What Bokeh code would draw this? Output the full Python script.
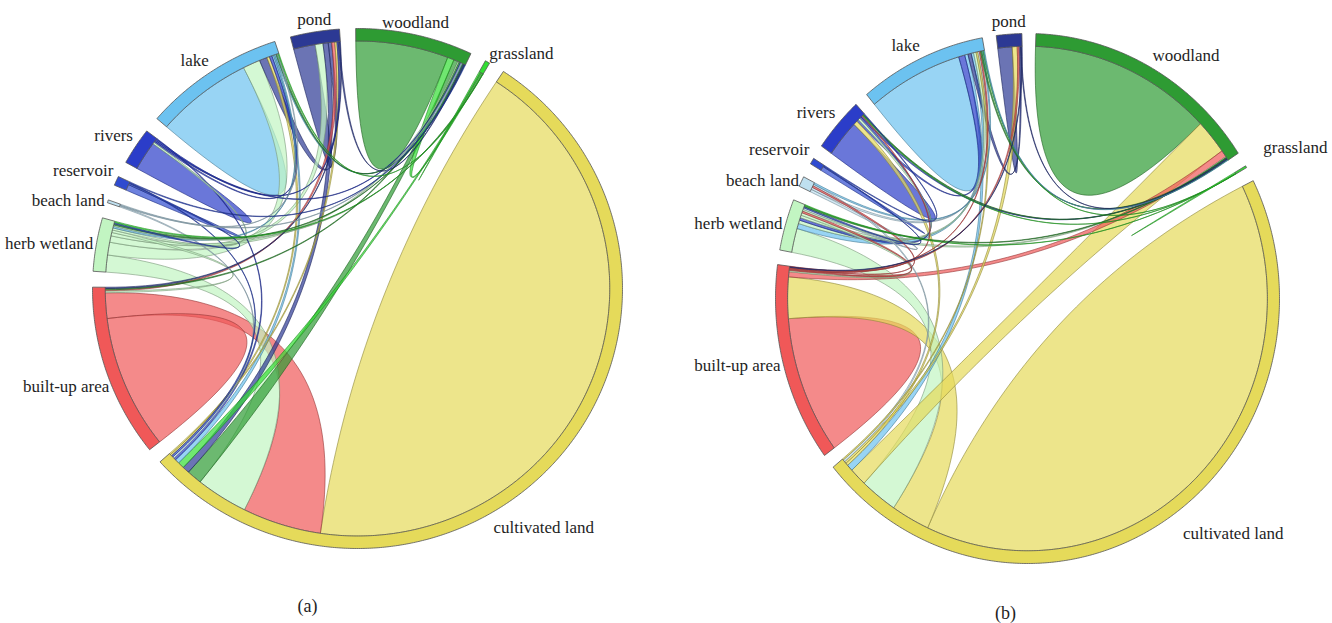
import math
from bokeh.plotting import figure
from bokeh.models import Range1d, ColumnDataSource
from bokeh.embed import file_html
from bokeh.resources import INLINE
from bokeh.core.properties import value

# Land classes, in clockwise order around each circle
SECTORS = ["cultivated land", "built-up area", "herb wetland", "beach land", "reservoir",
           "rivers", "lake", "pond", "woodland", "grassland"]
SECTOR_COLORS = ["#E5DA5A", "#F05858", "#C2F5C2", "#BFE0F0", "#2F4BD0",
                 "#2B3DC9", "#6CC2F0", "#2C3994", "#2E9B33", "#33DD33"]

# Period (a): transfers between classes, width at the origin end and at the destination end
A_FROM = ["cultivated land", "built-up area", "lake", "woodland", "rivers", "pond", "reservoir", "grassland",
          "built-up area", "herb wetland", "woodland", "pond", "grassland", "lake", "rivers", "beach land",
          "reservoir", "cultivated land", "cultivated land", "herb wetland", "pond", "rivers", "herb wetland",
          "built-up area", "grassland", "herb wetland", "herb wetland", "woodland", "woodland", "pond",
          "rivers", "rivers", "reservoir", "beach land", "beach land", "herb wetland", "lake", "lake",
          "woodland", "herb wetland", "pond", "reservoir", "grassland", "grassland"]
A_TO = ["cultivated land", "built-up area", "lake", "woodland", "rivers", "pond", "reservoir", "grassland",
        "cultivated land", "cultivated land", "cultivated land", "cultivated land", "cultivated land",
        "cultivated land", "cultivated land", "cultivated land", "cultivated land", "lake", "pond", "lake",
        "lake", "lake", "pond", "pond", "woodland", "woodland", "grassland", "built-up area", "herb wetland",
        "built-up area", "woodland", "pond", "herb wetland", "woodland", "lake", "built-up area",
        "herb wetland", "woodland", "lake", "rivers", "woodland", "woodland", "herb wetland", "lake"]
A_W_FROM = [77.7, 15.7, 11.2, 10.7, 3.4, 2.5, 0.7, 0.15,
            6.0, 4.0, 1.0, 1.2, 0.25, 0.4, 0.2, 0.25,
            0.2, 0.4, 0.3, 3.0, 0.8, 0.3, 1.5,
            0.3, 0.25, 0.8, 0.3, 0.3, 0.15, 0.2,
            0.3, 0.3, 0.3, 0.2, 0.2, 0.6, 0.3, 0.3,
            0.2, 0.5, 0.3, 0.2, 0.1, 0.05]
A_W_TO = [77.7, 15.7, 11.2, 10.7, 3.4, 2.5, 0.7, 0.15,
          18.2, 12.0, 3.5, 1.6, 1.5, 1.0, 0.5, 0.4,
          0.4, 0.6, 0.5, 4.0, 1.8, 0.6, 1.8,
          0.7, 1.5, 0.3, 0.1, 0.3, 0.3, 0.3,
          0.2, 0.3, 0.3, 0.2, 0.2, 0.4, 0.4, 0.2,
          0.3, 0.4, 0.2, 0.15, 0.3, 0.2]

# Period (b)
B_FROM = ["cultivated land", "built-up area", "woodland", "lake", "rivers", "pond", "reservoir", "grassland",
          "cultivated land", "herb wetland", "cultivated land", "lake", "built-up area", "cultivated land",
          "cultivated land", "cultivated land", "built-up area", "built-up area", "built-up area",
          "built-up area", "built-up area", "lake", "rivers", "pond", "rivers", "reservoir",
          "herb wetland", "herb wetland", "herb wetland", "herb wetland", "grassland", "grassland",
          "grassland", "woodland", "woodland", "woodland", "pond", "rivers", "lake", "beach land",
          "beach land", "beach land", "lake", "reservoir", "pond"]
B_TO = ["cultivated land", "built-up area", "woodland", "lake", "rivers", "pond", "reservoir", "grassland",
        "built-up area", "cultivated land", "woodland", "cultivated land", "woodland", "pond",
        "rivers", "lake", "pond", "lake", "herb wetland",
        "beach land", "rivers", "herb wetland", "lake", "lake", "herb wetland", "herb wetland",
        "lake", "woodland", "rivers", "built-up area", "lake", "herb wetland",
        "rivers", "herb wetland", "lake", "rivers", "woodland", "woodland", "woodland", "lake",
        "herb wetland", "cultivated land", "beach land", "rivers", "built-up area"]
B_W_FROM = [71.1, 16.0, 22.3, 11.6, 4.3, 1.75, 0.5, 0.15,
            9.4, 5.6, 4.2, 0.8, 1.2, 0.5,
            0.6, 0.3, 0.2, 0.15, 0.2,
            0.15, 0.1, 0.6, 0.5, 0.4, 0.4, 0.2,
            0.8, 0.6, 0.4, 0.6, 0.05, 0.05,
            0.05, 0.15, 0.15, 0.1, 0.2, 0.3, 0.2, 0.5,
            0.6, 0.4, 0.3, 0.2, 0.2]
B_W_TO = [71.1, 16.0, 22.3, 11.6, 4.3, 1.75, 0.5, 0.15,
          9.6, 9.1, 8.1, 1.5, 1.6, 1.2,
          1.0, 0.4, 0.4, 0.3, 0.4,
          0.4, 0.2, 1.2, 1.5, 0.8, 0.6, 0.3,
          0.6, 0.2, 0.5, 0.3, 0.2, 0.2,
          0.2, 0.3, 0.3, 0.2, 0.15, 0.15, 0.1, 0.4,
          0.4, 0.5, 0.4, 0.2, 0.15]

# Placement of the two circles on the page (pixels), start bearing of the first class and gap between classes
PANELS = [
    dict(cx=357, cy=288, rx=265, ry=260, start=33.4, gap=3.5, caption="(a)", cap=(307, 605),
         src=A_FROM, dst=A_TO, wsrc=A_W_FROM, wdst=A_W_TO,
         nudge={"cultivated land": (19, 1.02), "built-up area": (-3, 1.01),
                "grassland": (-0.5, 1.03, "middle")}),
    dict(cx=1027, cy=298, rx=252, ry=265, start=63.6, gap=3.2, caption="(b)", cap=(1005, 612),
         src=B_FROM, dst=B_TO, wsrc=B_W_FROM, wdst=B_W_TO,
         nudge={"cultivated land": (-3, 1.05), "grassland": (-1.5, 1.095, "middle"),
                "beach land": (0, 1.01, "middle")}),
]

R_OUT = 1.0
R_IN = 0.952


def darker(hex_color, f=0.62):
    h = hex_color.lstrip("#")
    r, g, b = (int(h[i:i + 2], 16) for i in (0, 2, 4))
    return "#%02x%02x%02x" % (int(r * f), int(g * f), int(b * f))


def pt(pn, theta, r):
    t = math.radians(theta)
    return (pn["cx"] + pn["rx"] * r * math.sin(t), pn["cy"] - pn["ry"] * r * math.cos(t))


def arc(pn, t1, t2, r, step=0.4):
    n = max(2, int(abs(t2 - t1) / step) + 2)
    return [pt(pn, t1 + (t2 - t1) * i / (n - 1), r) for i in range(n)]


def bezier(p0, c, p2, n=48):
    out = []
    for i in range(n + 1):
        u = i / n
        out.append(((1 - u) ** 2 * p0[0] + 2 * (1 - u) * u * c[0] + u * u * p2[0],
                    (1 - u) ** 2 * p0[1] + 2 * (1 - u) * u * c[1] + u * u * p2[1]))
    return out


def ribbon(pn, s1, s2, d1, d2):
    c = (pn["cx"], pn["cy"])
    pts = arc(pn, s1, s2, R_IN)
    if abs(d1 - s2) > 1e-9:
        pts += bezier(pt(pn, s2, R_IN), c, pt(pn, d1, R_IN))
    pts += arc(pn, d1, d2, R_IN)
    pts += bezier(pt(pn, d2, R_IN), c, pt(pn, s1, R_IN))
    return [q[0] for q in pts], [q[1] for q in pts]


p = figure(width=1332, height=623, x_range=Range1d(0, 1332), y_range=Range1d(623, 0),
           output_backend="svg", toolbar_location=None, min_border=0,
           x_axis_type=None, y_axis_type=None)
p.grid.visible = False
p.outline_line_color = None
p.background_fill_color = "white"

FONT = value("Liberation Serif")

for pn in PANELS:
    n = len(SECTORS)
    idx = {s: i for i, s in enumerate(SECTORS)}
    # collect link ends per class; a link from a class to itself keeps both ends together
    blocks = [[] for _ in range(n)]
    for k, (a, b) in enumerate(zip(pn["src"], pn["dst"])):
        if a == b:
            blocks[idx[a]].append((pn["wsrc"][k] + pn["wdst"][k], k, "self"))
        else:
            blocks[idx[a]].append((pn["wsrc"][k], k, "src"))
            blocks[idx[b]].append((pn["wdst"][k], k, "dst"))
    totals = [sum(w for w, _, _ in bl) for bl in blocks]
    scale = (360.0 - n * pn["gap"]) / sum(totals)

    ends = {}
    spans = []
    cursor = pn["start"]
    for i in range(n):
        s0 = cursor
        for w, k, role in sorted(blocks[i], key=lambda t: -t[0]):
            if role == "self":
                ws, wd = pn["wsrc"][k] * scale, pn["wdst"][k] * scale
                ends[(k, "src")] = (cursor, cursor + ws)
                ends[(k, "dst")] = (cursor + ws, cursor + ws + wd)
                cursor += ws + wd
            else:
                ends[(k, role)] = (cursor, cursor + w * scale)
                cursor += w * scale
        spans.append((s0, cursor))
        cursor += pn["gap"]

    # links, widest first so that the thin ones stay visible on top
    order = sorted(range(len(pn["src"])), key=lambda k: -max(pn["wsrc"][k], pn["wdst"][k]))
    xs, ys, fills, lines = [], [], [], []
    for k in order:
        s1, s2 = ends[(k, "src")]
        d1, d2 = ends[(k, "dst")]
        x, y = ribbon(pn, s1, s2, d1, d2)
        col = SECTOR_COLORS[idx[pn["src"][k]]]
        xs.append(x)
        ys.append(y)
        fills.append(col)
        lines.append(darker(col))
    p.patches("xs", "ys", source=ColumnDataSource(dict(xs=xs, ys=ys, fill=fills, line=lines)),
              fill_color="fill", fill_alpha=0.7, line_color="line", line_alpha=0.75, line_width=0.8)

    # outer ring of each class
    rx_, ry_, rc = [], [], []
    for i, (a0, a1) in enumerate(spans):
        outer = arc(pn, a0, a1, R_OUT)
        inner = arc(pn, a1, a0, R_IN)
        pts = outer + inner
        rx_.append([q[0] for q in pts])
        ry_.append([q[1] for q in pts])
        rc.append(SECTOR_COLORS[i])
    p.patches("xs", "ys", source=ColumnDataSource(dict(xs=rx_, ys=ry_, fill=rc)),
              fill_color="fill", fill_alpha=1.0, line_color="#555555", line_width=0.8)

    # class names around the circle
    for i, (a0, a1) in enumerate(spans):
        name = SECTORS[i]
        mid = (a0 + a1) / 2.0
        rho = 1.012
        base = None
        if name in pn["nudge"]:
            nd = pn["nudge"][name]
            mid += nd[0]
            rho = nd[1]
            if len(nd) > 2:
                base = nd[2]
        t = math.radians(mid)
        s, c = math.sin(t), math.cos(t)
        align = "center" if abs(s) < 0.25 else ("left" if s > 0 else "right")
        if base is None:
            base = "bottom" if c > 0.35 else ("top" if c < -0.5 else "middle")
        x, y = pt(pn, mid, rho)
        p.text(x=[x], y=[y], text=[name], text_font=FONT, text_font_size="17px",
               text_align=align, text_baseline=base, text_color="#1e1e1e")

    p.text(x=[pn["cap"][0]], y=[pn["cap"][1]], text=[pn["caption"]], text_font=FONT,
           text_font_size="18px", text_align="center", text_baseline="middle", text_color="#1e1e1e")

open("out.html", "w").write(file_html(p, INLINE))
